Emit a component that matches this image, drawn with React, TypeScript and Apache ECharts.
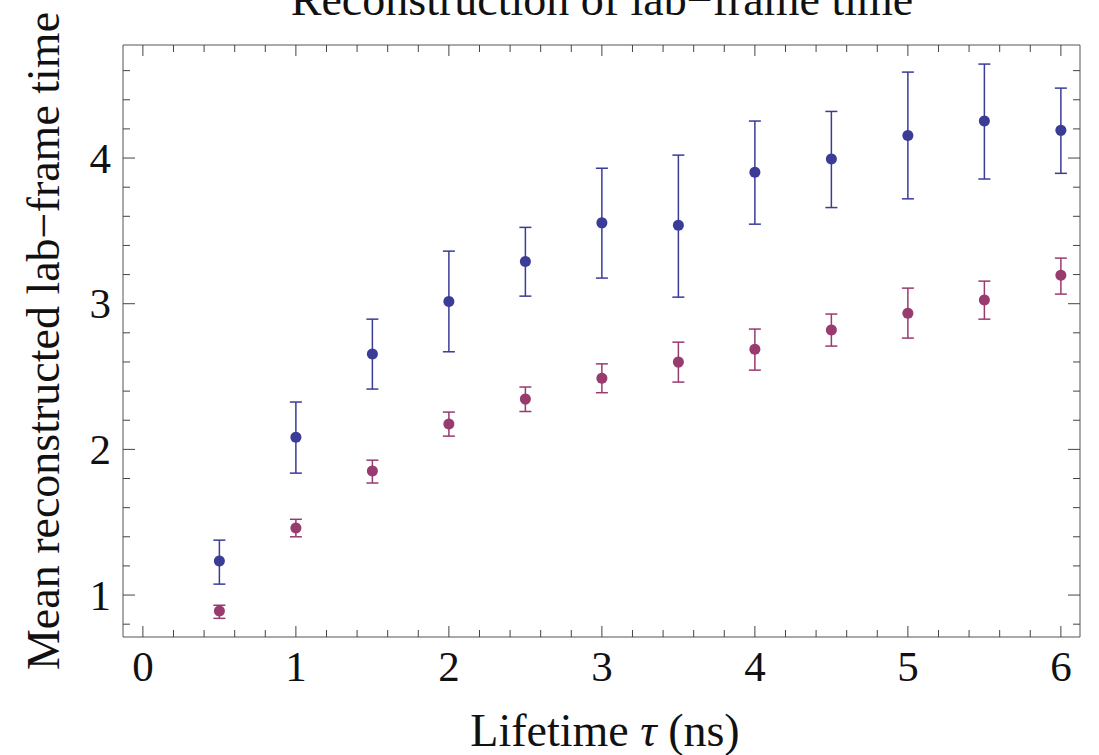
import React, { useEffect, useRef } from "react";
import * as echarts from "echarts";

const lifetimes = [0.5, 1, 1.5, 2, 2.5, 3, 3.5, 4, 4.5, 5, 5.5, 6];

const blueMean = [1.233, 2.084, 2.654, 3.015, 3.29, 3.555, 3.539, 3.903, 3.993, 4.155, 4.254, 4.19];
const blueHigh = [1.377, 2.325, 2.894, 3.361, 3.524, 3.93, 4.02, 4.254, 4.32, 4.59, 4.645, 4.48];
const blueLow = [1.075, 1.837, 2.414, 2.67, 3.052, 3.176, 3.045, 3.546, 3.66, 3.72, 3.856, 3.895];

const redMean = [0.89, 1.46, 1.851, 2.174, 2.345, 2.489, 2.599, 2.688, 2.819, 2.935, 3.025, 3.196];
const redHigh = [0.93, 1.52, 1.926, 2.256, 2.428, 2.587, 2.736, 2.826, 2.929, 3.107, 3.155, 3.313];
const redLow = [0.84, 1.4, 1.769, 2.091, 2.26, 2.389, 2.462, 2.544, 2.709, 2.764, 2.894, 3.066];

const xMajorTicks = [0, 1, 2, 3, 4, 5, 6];
const xMinorTicks = [
  0.2, 0.4, 0.6, 0.8, 1.2, 1.4, 1.6, 1.8, 2.2, 2.4, 2.6, 2.8, 3.2, 3.4, 3.6, 3.8,
  4.2, 4.4, 4.6, 4.8, 5.2, 5.4, 5.6, 5.8,
];
const yMajorTicks = [1, 2, 3, 4];
const yMinorTicks = [0.8, 1.2, 1.4, 1.6, 1.8, 2.2, 2.4, 2.6, 2.8, 3.2, 3.4, 3.6, 3.8, 4.2, 4.4, 4.6];

const titleText = "Reconstruction of lab\u2212frame time";
const yTitle = "Mean reconstructed lab\u2212frame time";

const X_MIN = -0.13;
const X_MAX = 6.125;
const Y_MIN = 0.712;
const Y_MAX = 4.776;

const BLUE = "#3b3b98";
const RED = "#983b6f";
const FONT = "Liberation Serif";

export default function App() {
  const ref = useRef<HTMLDivElement>(null);

  useEffect(() => {
    if (!ref.current) return;
    const chart = echarts.init(ref.current, undefined, { renderer: "svg" });

    const tickData: number[][] = [];
    xMajorTicks.forEach((v) => tickData.push([v, 0, 1]));
    xMinorTicks.forEach((v) => tickData.push([v, 0, 0]));
    yMajorTicks.forEach((v) => tickData.push([v, 1, 1]));
    yMinorTicks.forEach((v) => tickData.push([v, 1, 0]));

    const errRender = (color: string) => (params: any, api: any) => {
      const x = api.value(0);
      const lo = api.coord([x, api.value(1)]);
      const hi = api.coord([x, api.value(2)]);
      const hw = 6;
      const st = { stroke: color, lineWidth: 1.5 };
      return {
        type: "group",
        children: [
          { type: "line", shape: { x1: lo[0], y1: lo[1], x2: hi[0], y2: hi[1] }, style: st },
          { type: "line", shape: { x1: hi[0] - hw, y1: hi[1], x2: hi[0] + hw, y2: hi[1] }, style: st },
          { type: "line", shape: { x1: lo[0] - hw, y1: lo[1], x2: lo[0] + hw, y2: lo[1] }, style: st },
        ],
      };
    };

    const labelFmt = (v: number) => (Math.abs(v - Math.round(v)) < 1e-6 ? String(Math.round(v)) : "");

    const option: any = {
      animation: false,
      backgroundColor: "#ffffff",
      grid: {
        left: 123,
        right: 19,
        top: 45,
        bottom: 118,
        show: true,
        borderColor: "#555555",
        borderWidth: 1,
        backgroundColor: "transparent",
      },
      xAxis: {
        type: "value",
        min: X_MIN,
        max: X_MAX,
        axisLine: { show: false },
        axisTick: { show: false },
        splitLine: { show: false },
        axisLabel: {
          margin: 8,
          fontFamily: FONT,
          fontSize: 43,
          color: "#111",
          formatter: labelFmt,
        },
      },
      yAxis: {
        type: "value",
        min: Y_MIN,
        max: Y_MAX,
        axisLine: { show: false },
        axisTick: { show: false },
        splitLine: { show: false },
        axisLabel: {
          margin: 12,
          fontFamily: FONT,
          fontSize: 43,
          color: "#111",
          formatter: labelFmt,
        },
      },
      graphic: [
        {
          type: "text",
          x: 602,
          y: -1,
          style: {
            text: titleText,
            fontFamily: FONT,
            fontSize: 46,
            fill: "#111",
            align: "center",
            verticalAlign: "middle",
          },
        },
        {
          type: "text",
          x: 43,
          y: 341,
          rotation: Math.PI / 2,
          style: {
            text: yTitle,
            fontFamily: FONT,
            fontSize: 46,
            fill: "#111",
            align: "center",
            verticalAlign: "middle",
          },
        },
        {
          type: "text",
          x: 605,
          y: 730,
          style: {
            text: "Lifetime {i|\u03c4} (ns)",
            fontFamily: FONT,
            fontSize: 46,
            fill: "#111",
            align: "center",
            verticalAlign: "middle",
            rich: {
              i: { fontFamily: FONT, fontSize: 46, fontStyle: "italic", fill: "#111" },
            },
          },
        },
      ],
      series: [
        {
          type: "custom",
          name: "ticks",
          silent: true,
          clip: false,
          z: 5,
          data: tickData,
          renderItem: (params: any, api: any) => {
            const cs = params.coordSys;
            const v = api.value(0);
            const kind = api.value(1);
            const major = api.value(2);
            const st = { stroke: "#444444", lineWidth: 1 };
            if (kind === 0) {
              const len = major ? 11 : 7;
              const px = api.coord([v, Y_MIN])[0];
              const yb = cs.y + cs.height;
              return {
                type: "group",
                children: [
                  { type: "line", shape: { x1: px, y1: yb, x2: px, y2: yb - len }, style: st },
                  { type: "line", shape: { x1: px, y1: cs.y, x2: px, y2: cs.y + len }, style: st },
                ],
              };
            }
            const len = major ? 12 : 7;
            const py = api.coord([X_MIN, v])[1];
            const xr = cs.x + cs.width;
            return {
              type: "group",
              children: [
                { type: "line", shape: { x1: cs.x, y1: py, x2: cs.x + len, y2: py }, style: st },
                { type: "line", shape: { x1: xr, y1: py, x2: xr - len, y2: py }, style: st },
              ],
            };
          },
        },
        {
          type: "custom",
          name: "blueErr",
          z: 6,
          data: lifetimes.map((x, i) => [x, blueLow[i], blueHigh[i]]),
          encode: { x: 0, y: [1, 2] },
          renderItem: errRender(BLUE),
        },
        {
          type: "custom",
          name: "redErr",
          z: 6,
          data: lifetimes.map((x, i) => [x, redLow[i], redHigh[i]]),
          encode: { x: 0, y: [1, 2] },
          renderItem: errRender(RED),
        },
        {
          type: "scatter",
          name: "blue",
          z: 7,
          symbol: "circle",
          symbolSize: 11,
          itemStyle: { color: BLUE, opacity: 1 },
          data: lifetimes.map((x, i) => [x, blueMean[i]]),
        },
        {
          type: "scatter",
          name: "red",
          z: 7,
          symbol: "circle",
          symbolSize: 11,
          itemStyle: { color: RED, opacity: 1 },
          data: lifetimes.map((x, i) => [x, redMean[i]]),
        },
      ],
    };

    chart.setOption(option);
    return () => chart.dispose();
  }, []);

  return (
    <div
      ref={ref}
      style={{ position: "fixed", left: 0, top: 0, width: 1099, height: 755, background: "#fff" }}
    />
  );
}
